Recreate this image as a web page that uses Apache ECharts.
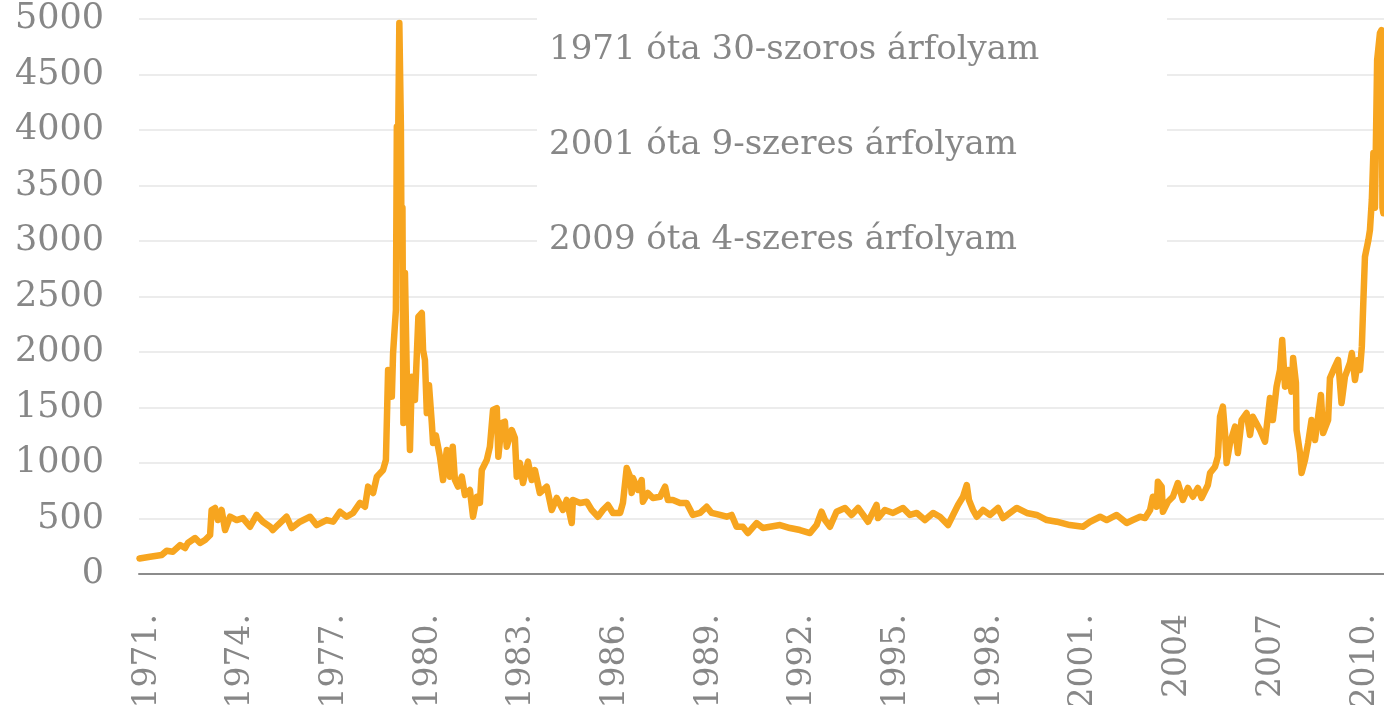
<!DOCTYPE html>
<html>
<head>
<meta charset="utf-8">
<script src="https://cdn.jsdelivr.net/npm/echarts@6/dist/echarts.min.js"></script>
<style>
  html, body { margin: 0; padding: 0; background: #fff; }
  #chart { width: 1384px; height: 705px; }
</style>
</head>
<body>
<div id="chart"></div>
<script>
// position on the time axis (label years) and price
const years = [
  1970.76, 1971.10, 1971.47, 1971.63, 1971.83, 1972.06, 1972.22, 1972.31, 1972.54, 1972.70,
  1972.86, 1973.02, 1973.07, 1973.18, 1973.27, 1973.39, 1973.50, 1973.66, 1973.87, 1974.07,
  1974.30, 1974.51, 1974.71, 1974.94, 1975.03, 1975.19, 1975.47, 1975.63, 1975.90, 1976.22,
  1976.43, 1976.75, 1976.96, 1977.18, 1977.39, 1977.60, 1977.82, 1977.98, 1978.08, 1978.24,
  1978.36, 1978.56, 1978.65, 1978.72, 1978.84, 1978.88, 1978.97, 1979.00, 1979.03, 1979.08,
  1979.13, 1979.15, 1979.18, 1979.21, 1979.26, 1979.32, 1979.37, 1979.42, 1979.48, 1979.58,
  1979.69, 1979.80, 1979.84, 1979.90, 1979.96, 1980.03, 1980.12, 1980.16, 1980.25, 1980.38,
  1980.48, 1980.60, 1980.70, 1980.79, 1980.86, 1980.96, 1981.08, 1981.18, 1981.34, 1981.44,
  1981.56, 1981.66, 1981.72, 1981.88, 1981.98, 1982.08, 1982.20, 1982.25, 1982.36, 1982.46,
  1982.52, 1982.68, 1982.78, 1982.84, 1982.94, 1983.04, 1983.20, 1983.32, 1983.42, 1983.58,
  1983.80, 1983.96, 1984.12, 1984.32, 1984.44, 1984.60, 1984.64, 1984.87, 1985.08, 1985.24,
  1985.44, 1985.60, 1985.76, 1985.92, 1986.15, 1986.24, 1986.36, 1986.47, 1986.52, 1986.56,
  1986.72, 1986.84, 1986.88, 1987.04, 1987.20, 1987.43, 1987.59, 1987.68, 1987.84, 1988.07,
  1988.28, 1988.48, 1988.71, 1988.92, 1989.08, 1989.35, 1989.56, 1989.72, 1989.88, 1990.08,
  1990.24, 1990.52, 1990.72, 1990.95, 1991.27, 1991.59, 1991.91, 1992.23, 1992.44, 1992.60,
  1992.71, 1992.87, 1993.08, 1993.35, 1993.56, 1993.77, 1994.09, 1994.36, 1994.41, 1994.63,
  1994.89, 1995.21, 1995.43, 1995.65, 1995.91, 1996.17, 1996.39, 1996.65, 1996.81, 1996.97,
  1997.13, 1997.25, 1997.32, 1997.45, 1997.57, 1997.77, 1997.99, 1998.25, 1998.41, 1998.85,
  1999.17, 1999.49, 1999.81, 2000.13, 2000.55, 2000.97, 2001.20, 2001.52, 2001.73, 2002.05,
  2002.37, 2002.57, 2002.80, 2002.96, 2003.12, 2003.21, 2003.33, 2003.37, 2003.49, 2003.53,
  2003.69, 2003.85, 2004.01, 2004.17, 2004.33, 2004.49, 2004.65, 2004.77, 2004.97, 2005.04,
  2005.20, 2005.29, 2005.36, 2005.45, 2005.52, 2005.57, 2005.68, 2005.84, 2005.93, 2006.05,
  2006.21, 2006.32, 2006.41, 2006.64, 2006.80, 2006.96, 2007.05, 2007.17, 2007.28, 2007.35,
  2007.44, 2007.54, 2007.65, 2007.70, 2007.79, 2007.81, 2007.92, 2007.97, 2008.08, 2008.18,
  2008.29, 2008.40, 2008.50, 2008.59, 2008.66, 2008.82, 2008.88, 2009.04, 2009.14, 2009.25,
  2009.36, 2009.52, 2009.58, 2009.68, 2009.78, 2009.84, 2009.90, 2009.95, 2010.00, 2010.11,
  2010.16, 2010.22, 2010.27, 2010.32, 2010.39, 2010.48, 2010.53, 2010.56, 2010.59
]
const prices = [
  140, 156, 171, 210, 201, 261, 234, 279, 324, 279,
  306, 351, 577, 595, 486, 577, 396, 516, 486, 504,
  426, 532, 471, 426, 396, 441, 516, 414, 471, 516,
  441, 486, 471, 561, 516, 550, 640, 606, 787, 730,
  877, 937, 1027, 1838, 1598, 1991, 2378, 4030, 3600, 4964,
  4030, 2900, 3300, 1360, 2712, 1778, 1650, 1117, 1778, 1568,
  2318, 2351, 2018, 1928, 1450, 1700, 1360, 1180, 1250, 1057,
  847, 1117, 877, 1147, 847, 787, 877, 712, 757, 516,
  696, 640, 937, 1027, 1147, 1478, 1495, 1057, 1360, 1372,
  1147, 1297, 1225, 877, 1000, 820, 1012, 847, 937, 730,
  787, 577, 685, 577, 667, 459, 667, 640, 651, 577,
  516, 577, 622, 550, 550, 640, 955, 877, 730, 865,
  757, 847, 651, 730, 685, 696, 787, 667, 667, 640,
  640, 532, 550, 606, 550, 532, 516, 532, 426, 426,
  369, 459, 414, 426, 441, 414, 396, 369, 441, 561,
  486, 426, 561, 595, 532, 595, 471, 622, 504, 577,
  550, 595, 532, 550, 486, 550, 516, 441, 532, 622,
  696, 802, 667, 577, 516, 577, 532, 595, 504, 595,
  550, 532, 486, 471, 441, 426, 471, 516, 486, 532,
  459, 486, 516, 504, 577, 696, 606, 832, 787, 561,
  651, 696, 820, 667, 775, 696, 775, 685, 802, 910,
  967, 1057, 1417, 1508, 1270, 1000, 1180, 1327, 1090, 1387,
  1450, 1252, 1417, 1297, 1192, 1586, 1387, 1688, 1838, 2108,
  1688, 1838, 1643, 1946, 1721, 1297, 1090, 910, 1027, 1180,
  1387, 1207, 1417, 1613, 1270, 1387, 1766, 1868, 1928, 1540,
  1778, 1901, 1991, 1748, 1928, 1838, 2048, 2468, 2858, 3009,
  3099, 3369, 3793, 3300, 4630, 4874, 4900, 3300, 3250
]
const tickYears = [1971, 1974, 1977, 1980, 1983, 1986, 1989, 1992, 1995, 1998, 2001, 2004, 2007, 2010]
const tickLabels = ['1971.', '1974.', '1977.', '1980.', '1983.', '1986.', '1989.', '1992.', '1995.', '1998.', '2001.', '2004', '2007', '2010.']
const notes = ['1971 óta 30-szoros árfolyam', '2001 óta 9-szeres árfolyam', '2009 óta 4-szeres árfolyam']

const serif = '"DejaVu Serif", "Liberation Serif", serif'
const grey = '#878787'

const chart = echarts.init(document.getElementById('chart'))
chart.setOption({
	animation: false,
	grid: { left: 139, right: 0, top: 19, bottom: 131, outerBoundsMode: 'none', containLabel: false },
	xAxis: {
		type: 'value',
		min: 1970.744,
		max: 2010.61,
		axisLine: { show: true, lineStyle: { color: '#8c8c8c', width: 2 } },
		axisTick: { show: false },
		splitLine: { show: false },
		axisLabel: {
			customValues: tickYears,
			formatter: v => tickLabels[tickYears.indexOf(Math.round(v))],
			rotate: 90,
			margin: 40,
			fontFamily: serif,
			fontSize: 33,
			color: grey
		}
	},
	yAxis: {
		type: 'value',
		min: 0,
		max: 5000,
		interval: 500,
		axisLine: { show: false },
		axisTick: { show: false },
		splitLine: { lineStyle: { color: '#e6e6e6', width: 1.5 } },
		axisLabel: {
			margin: 35,
			formatter: v => String(v),
			fontFamily: serif,
			fontSize: 35,
			color: grey
		}
	},
	series: [{
		type: 'line',
		data: years.map((t, i) => [t, prices[i]]),
		showSymbol: false,
		lineStyle: { color: '#F7A51F', width: 6.5, join: 'round', cap: 'round' }
	}],
	graphic: [
		{ type: 'rect', z: 100, shape: { x: 537, y: 0, width: 630, height: 268 }, style: { fill: '#fff' } },
		...notes.map((txt, i) => ({
			type: 'text', z: 101, x: 549, y: 50 + i * 95,
			style: { text: txt, font: '34px ' + serif, fill: grey, verticalAlign: 'middle' }
		}))
	]
})
</script>
</body>
</html>
